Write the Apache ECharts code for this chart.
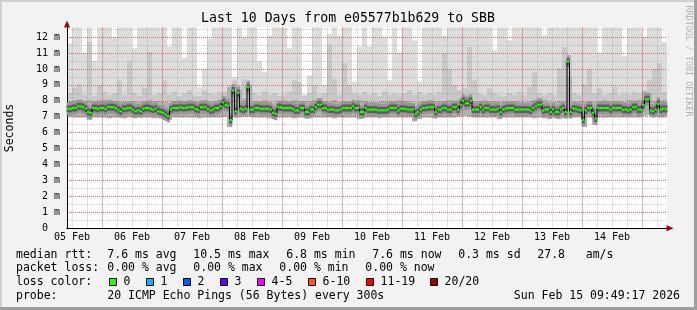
<!DOCTYPE html>
<html><head><meta charset="utf-8">
<script src="https://cdn.jsdelivr.net/npm/echarts@6/dist/echarts.min.js"></script>
<style>html,body{margin:0;padding:0;background:#f2f2f2}#c{width:697px;height:310px}</style>
</head><body><div id="c"></div>
<script>
// ---------------- DATA ----------------
const titleText = 'Last 10 Days from e05577b1b629 to SBB';
const startHour = 10; // left edge of graph: hours after 00:00 on 05 Feb
const dayLabels = ['05 Feb','06 Feb','07 Feb','08 Feb','09 Feb','10 Feb','11 Feb','12 Feb','13 Feb','14 Feb'];

// hourly median RTT (ms), 240 hours
const median = [
 7.5,7.5,7.55,7.55,7.65,7.65,7.6,7.5,7.3,7.25,7.55,7.55,7.5,7.55,7.55,7.5,7.6,7.6,7.6,7.55,7.45,7.35,7.5,7.5,
 7.55,7.55,7.45,7.35,7.4,7.35,7.5,7.55,7.55,7.5,7.45,7.5,7.35,7.3,7.25,7.15,7.05,7.45,7.55,7.55,7.55,7.6,7.55,7.55,
 7.6,7.6,7.6,7.5,7.45,7.6,7.6,7.6,7.5,7.4,7.45,7.55,7.55,7.65,7.9,7.75,7.7,6.8,8.65,7.35,8.5,7.5,7.45,7.5,
 8.85,7.45,7.45,7.55,7.55,7.5,7.5,7.5,7.5,7.45,7.25,7.2,7.6,7.6,7.55,7.55,7.55,7.55,7.5,7.4,7.4,7.55,7.55,7.3,
 7.3,7.45,7.45,7.6,7.75,7.75,7.55,7.55,7.45,7.45,7.45,7.4,7.4,7.45,7.55,7.55,7.55,7.55,7.65,7.55,7.55,7.3,7.3,7.55,
 7.45,7.45,7.45,7.45,7.4,7.4,7.4,7.4,7.45,7.55,7.55,7.55,7.4,7.5,7.5,7.5,7.45,7.45,7.45,7.2,7.3,7.45,7.55,7.55,
 7.6,7.6,7.6,7.3,7.45,7.45,7.55,7.55,7.45,7.45,7.6,7.6,7.45,7.75,8.0,7.85,7.85,8.0,7.45,7.45,7.45,7.6,7.45,7.55,
 7.55,7.45,7.45,7.45,7.5,7.3,7.45,7.5,7.55,7.55,7.55,7.45,7.45,7.45,7.45,7.45,7.45,7.4,7.55,7.65,7.75,7.75,7.4,7.45,
 7.45,7.3,7.45,7.3,7.3,7.45,7.55,7.3,10.45,7.3,7.5,7.5,7.45,7.4,6.8,7.4,7.55,7.55,7.25,6.9,7.55,7.55,7.55,7.55,
 7.55,7.45,7.55,7.55,7.55,7.55,7.45,7.45,7.4,7.45,7.6,7.6,7.45,7.45,7.75,8.1,8.1,7.4,7.35,7.45,7.8,7.45,7.5,7.5
];

// smoke (2-hour slots, 120): lowest ping, top of dense smoke, top of medium smoke, top of light smoke
const smokeLow = [
 7.0,6.95,6.95,6.95,6.8,6.95,6.95,6.95,6.9,6.95,6.95,6.9,
 6.95,6.9,6.95,6.95,6.95,6.9,6.95,6.8,6.8,6.95,6.95,6.95,
 6.95,6.95,6.9,6.95,6.95,6.95,6.95,7.0,6.35,7.0,6.95,7.0,
 7.0,6.95,6.95,6.95,6.9,6.85,6.95,6.95,6.95,6.9,6.95,6.95,
 6.9,6.95,6.95,6.95,6.95,6.9,6.95,6.95,6.95,6.95,6.85,6.95,
 6.95,6.95,6.9,6.95,6.95,6.95,6.95,6.95,6.95,6.7,6.85,6.95,
 6.95,6.9,6.95,6.95,6.95,6.95,7.0,7.05,7.0,6.95,6.95,6.95,
 6.95,6.95,6.85,6.95,6.95,6.95,6.95,6.95,6.95,6.9,6.95,6.9,
 6.85,6.95,6.85,6.9,6.9,6.95,6.95,6.35,6.95,6.5,6.95,6.95,
 6.95,6.95,6.95,6.95,6.95,6.95,6.95,7.05,7.1,7.0,6.95,6.95
];
const smokeUpper = [
 8.0,8.05,8.1,8.0,8.1,7.95,8.05,8.05,8.1,8.0,8.0,7.95,
 8.0,8.0,7.95,8.0,8.1,8.0,8.0,7.95,7.9,8.0,8.05,8.0,
 8.05,8.0,7.95,8.05,8.0,7.95,8.05,8.3,8.9,9.0,8.7,8.2,
 9.0,8.0,8.0,8.05,7.95,7.9,8.0,8.05,8.0,8.05,8.0,8.0,
 8.0,8.05,8.2,8.0,8.0,8.05,7.95,8.0,8.0,8.0,8.05,8.0,
 7.95,7.95,7.95,8.0,7.95,8.0,8.05,8.0,8.0,7.9,7.95,8.0,
 8.05,8.0,8.0,8.0,8.05,8.0,8.1,8.35,8.4,8.0,8.0,8.05,
 8.0,8.0,7.95,8.0,8.0,8.0,7.95,7.95,8.0,8.05,8.0,8.1,
 7.95,7.95,8.0,7.95,9.6,7.95,8.0,7.95,8.0,7.95,8.0,8.05,
 8.0,8.0,8.0,7.95,8.05,8.0,8.1,8.6,8.5,8.0,8.05,8.05
];
const smokeSpike = [
 8.5,8.85,9.05,8.4,11.7,8.3,9.0,8.6,8.4,8.5,9.3,8.4,
 10.5,8.5,8.3,8.85,11.1,8.4,8.5,9.3,8.4,8.6,8.3,8.5,
 8.7,8.4,8.3,8.7,8.5,8.4,8.6,8.6,9.0,9.3,8.9,9.4,
 9.1,8.5,8.4,8.6,8.4,8.5,8.3,8.4,8.6,9.3,9.2,8.3,
 8.5,9.0,8.4,8.5,11.6,9.4,8.4,10.4,9.0,8.5,8.4,8.6,
 8.4,8.5,8.3,8.6,8.4,8.5,8.4,8.5,8.7,8.4,8.6,8.4,
 8.5,8.4,8.6,11.0,10.0,9.0,8.7,8.8,11.4,9.3,8.5,8.4,
 8.8,8.5,8.4,8.3,8.5,8.4,8.6,8.4,8.9,9.8,8.5,8.4,
 8.5,8.4,10.1,11.4,10.9,8.5,8.4,9.05,10.0,8.5,8.8,8.4,
 8.5,8.9,8.4,8.5,8.4,8.6,8.5,8.7,9.3,10.0,10.4,8.6
];
const smokeMax = [
 11.6,12.6,12.6,11.0,12.6,10.5,12.6,12.6,12.6,12.0,12.6,12.6,
 12.6,11.3,12.6,12.6,12.6,12.6,12.6,12.6,11.4,12.6,12.6,10.7,
 12.6,12.6,8.85,10.0,11.9,12.6,12.6,12.6,12.6,9.5,12.6,12.0,
 12.6,12.6,10.5,9.8,12.1,12.6,12.6,12.6,11.3,12.6,12.6,8.4,
 9.6,12.6,12.6,9.0,12.2,12.6,12.1,12.6,12.6,9.2,11.4,12.6,
 11.4,12.6,12.6,12.0,9.3,12.6,11.0,12.6,12.6,11.8,9.2,12.6,
 12.6,12.6,12.6,12.1,12.6,12.6,12.6,12.6,12.6,12.6,12.6,12.6,
 12.6,11.15,12.6,12.6,11.8,12.6,12.6,12.6,12.6,12.6,12.6,12.1,
 12.6,12.6,12.6,12.6,12.6,12.6,12.6,12.6,12.6,12.6,11.0,12.6,
 12.6,12.6,12.6,10.8,12.6,12.6,12.6,12.0,12.6,12.6,12.6,11.7
];

const rttStats = ['7.6 ms avg','10.5 ms max','6.8 ms min','7.6 ms now','0.3 ms sd','27.8   am/s'];
const lossStats = ['0.00 % avg','0.00 % max','0.00 % min','0.00 % now'];
const lossLabels = ['0','1','2','3','4-5','6-10','11-19','20/20'];
const lossColors = ['#26ff00','#00b8ff','#0059ff','#5e00ff','#ff00ff','#ff5500','#ff0000','#a10000'];
const probeText = '20 ICMP Echo Pings (56 Bytes) every 300s';
const dateText = 'Sun Feb 15 09:49:17 2026';

// ---------------- BUILD ----------------
const FONT = "'DejaVu Sans Mono', monospace";
const hours = median.map((_, i) => i);
const slots = smokeLow.map((_, i) => i);
const marks = Array.from({length: median.length + 1}, (_, i) => i);
const isMinor = i => (startHour + i) % 6 === 0;
const isMajor = i => (startHour + i) % 24 === 0;
const isNoon = i => (startHour + i) % 24 === 12;
const r2 = v => Math.round(v * 100) / 100;

const bodyL = smokeUpper.map((u, i) => r2(u - smokeLow[i]));
const spikeL = smokeSpike.map((s, i) => r2(Math.max(0, s - smokeUpper[i])));
const maxL = smokeMax.map((m, i) => r2(Math.max(0, m - Math.max(smokeSpike[i], smokeUpper[i]))));

function barLayer(name, data, color) {
  return {type: 'bar', name, xAxisIndex: 0, yAxisIndex: 0, stack: 'smoke', data,
    barCategoryGap: '0%', barGap: '0%', itemStyle: {color}, silent: true, z: 2, animation: false};
}
function band(half, color, z) {
  return {type: 'custom', xAxisIndex: 1, yAxisIndex: 0, z, silent: true, animation: false,
    data: median.map((v, i) => [i, v]), encode: {x: 0, y: 1},
    renderItem: (params, api) => {
      const p = api.coord([api.value(0), api.value(1)]);
      const w = api.size([1, 0])[0];
      return {type: 'rect', shape: {x: p[0] - w / 2 - 0.3, y: p[1] - half, width: w + 0.6, height: half * 2},
        style: {fill: color}};
    }};
}

const minorLine = {color: 'rgba(130,130,130,0.42)', type: [1, 1], width: 1};
const majorLine = {color: 'rgba(255,0,0,0.42)', type: [1, 1], width: 1};
const noAxis = {axisLine: {show: false}, axisTick: {show: false}, axisLabel: {show: false}, splitLine: {show: false}};

// legend graphics
function txt(x, y, text, o) {
  o = o || {};
  const al = o.align || 'left';
  const el = {type: 'text', x, y, silent: true, z: 100,
    style: {text, font: o.font || ('11.5px ' + FONT), fill: o.fill || '#000',
      textAlign: al, align: al, textVerticalAlign: 'middle', verticalAlign: 'middle'}};
  if (o.rotation != null) el.rotation = o.rotation;
  return el;
}
const P = 6.95, G = 16.5, COL = 107.3, X0 = 16;
const Y1 = 254.8, Y2 = 268.5, Y3 = 282.5, Y4 = 296;
const graphic = [
  {type: 'rect', silent: true, shape: {x: 0, y: 0, width: 697, height: 2}, style: {fill: '#cfcfcf'}},
  {type: 'rect', silent: true, shape: {x: 0, y: 0, width: 2, height: 310}, style: {fill: '#cfcfcf'}},
  {type: 'rect', silent: true, shape: {x: 694, y: 0, width: 3, height: 310}, style: {fill: '#9e9e9e'}},
  {type: 'rect', silent: true, shape: {x: 0, y: 307, width: 697, height: 3}, style: {fill: '#9e9e9e'}},
  txt(348, 19, titleText, {font: '13.2px ' + FONT, align: 'center'}),
  txt(10, 128, 'Seconds', {font: '11.5px ' + FONT, align: 'center', rotation: Math.PI / 2}),
  txt(688, 61, 'RRDTOOL / TOBI OETIKER', {font: '8.4px ' + FONT, fill: '#b4b4b4', align: 'center', rotation: -Math.PI / 2}),
  txt(X0, Y1, 'median rtt:'),
  txt(X0, Y2, 'packet loss:'),
  txt(X0, Y3, 'loss color:'),
  txt(X0, Y4, 'probe:'),
  txt(COL, Y4, probeText),
  txt(680, Y4, dateText, {align: 'right'})
];
let x = COL;
rttStats.forEach(s => { graphic.push(txt(x, Y1, s)); x += s.length * P + G; });
x = COL;
lossStats.forEach(s => { graphic.push(txt(x, Y2, s)); x += s.length * P + G; });
let sx = 109;
lossLabels.forEach((lab, i) => {
  const bx = Math.floor(sx) + 0.5;
  graphic.push({type: 'rect', silent: true, z: 100, shape: {x: bx, y: Y3 - 4, width: 7, height: 7},
    style: {fill: lossColors[i], stroke: '#000', lineWidth: 1}});
  graphic.push(txt(bx + 14.1, Y3, lab));
  sx += 14.6 + lab.length * P + 15.5;
});

const option = {
  animation: false,
  backgroundColor: '#f2f2f2',
  grid: {left: 67, right: 30, top: 27.5, bottom: 81.7, show: true, backgroundColor: '#ffffff', borderWidth: 0},
  xAxis: [
    {type: 'category', data: slots, boundaryGap: true, show: false, position: 'bottom'},
    {type: 'category', data: hours, boundaryGap: true, show: false, position: 'bottom'},
    {type: 'category', data: marks, boundaryGap: false, position: 'bottom', z: 3,
      axisLine: {show: true, onZero: false, lineStyle: {color: '#000', width: 1}},
      axisTick: {show: false}, axisLabel: {show: false},
      splitLine: {show: true, interval: i => isMinor(i), lineStyle: minorLine}},
    {type: 'category', data: marks, boundaryGap: false, position: 'bottom', z: 3.1,
      axisLine: {show: false}, axisTick: {show: false},
      axisLabel: {show: true, interval: i => isNoon(i), hideOverlap: false,
        formatter: v => dayLabels[Math.floor((startHour + Number(v)) / 24)] || '',
        fontFamily: FONT, fontSize: 10, color: '#000', margin: 4},
      splitLine: {show: true, interval: i => isMajor(i), lineStyle: majorLine}},
    Object.assign({type: 'category', data: marks, boundaryGap: false, position: 'bottom', z: 2.9}, noAxis, {
      axisLine: {show: true, onZero: false, symbol: ['none', 'triangle'], symbolSize: [6, 7], symbolOffset: [0, 3],
        lineStyle: {color: '#a00000', width: 1}}})
  ],
  yAxis: [
    {type: 'value', min: 0, max: 12.6, interval: 0.5, position: 'left', z: 3,
      axisLine: {show: false}, axisTick: {show: false}, axisLabel: {show: false},
      splitLine: {show: true, showMinLine: false, showMaxLine: false, lineStyle: minorLine}},
    {type: 'value', min: 0, max: 12.6, interval: 1, position: 'left', z: 3.1,
      axisLine: {show: true, onZero: false, lineStyle: {color: '#000', width: 1}},
      axisTick: {show: false},
      axisLabel: {show: true, fontFamily: FONT, fontSize: 10, color: '#000', margin: 7,
        formatter: v => (Math.abs(v - Math.round(v)) > 1e-6) ? '' : (Math.round(v) === 0 ? '0\u00a0\u00a0' : Math.round(v) + ' m')},
      splitLine: {show: true, showMinLine: false, showMaxLine: false, lineStyle: majorLine}},
    Object.assign({type: 'value', min: 0, max: 12.6, position: 'left', z: 2.9}, noAxis, {
      axisLine: {show: true, onZero: false, symbol: ['none', 'triangle'], symbolSize: [6, 7], symbolOffset: [0, 3.5],
        lineStyle: {color: '#a00000', width: 1}}})
  ],
  series: [
    barLayer('base', smokeLow, 'rgba(0,0,0,0)'),
    barLayer('body', bodyL, '#b0b0b0'),
    barLayer('spike', spikeL, '#c8c8c8'),
    barLayer('max', maxL, '#dcdcdc'),
    band(6.5, '#969696', 4),
    band(3.5, '#5e5e5e', 4.1),
    {type: 'line', xAxisIndex: 1, yAxisIndex: 0, data: median, step: 'middle', symbol: 'none',
      lineStyle: {color: '#000', width: 1}, z: 5, silent: true, animation: false},
    {type: 'custom', xAxisIndex: 1, yAxisIndex: 0, z: 6, silent: true, animation: false,
      data: median.map((v, i) => [i, v]), encode: {x: 0, y: 1},
      renderItem: (params, api) => {
        const p = api.coord([api.value(0), api.value(1)]);
        const w = api.size([1, 0])[0];
        return {type: 'rect', shape: {x: p[0] - w / 2, y: p[1] - 1, width: w, height: 2}, style: {fill: '#26ff00'}};
      }}
  ],
  graphic: {elements: graphic}
};

const chart = echarts.init(document.getElementById('c'), null, {renderer: 'canvas'});
chart.setOption(option);
</script>
</body></html>
